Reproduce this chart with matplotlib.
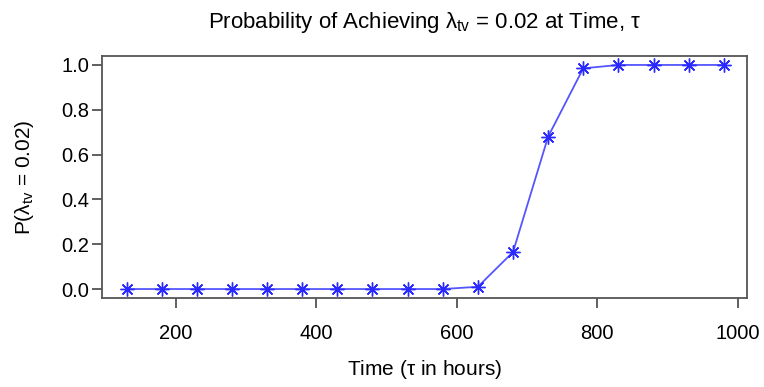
import numpy as np
import matplotlib
matplotlib.use("Agg")
import matplotlib.pyplot as plt

plt.rcParams['font.family'] = ['Liberation Sans', 'DejaVu Sans']
plt.rcParams['mathtext.fontset'] = 'custom'
plt.rcParams['mathtext.rm'] = 'Liberation Sans'
plt.rcParams['mathtext.it'] = 'Liberation Sans'
plt.rcParams['mathtext.bf'] = 'Liberation Sans:bold'

# data
temps = [130, 180, 230, 280, 330, 380, 430, 480, 530, 580, 630, 680, 730, 780, 830, 880, 930, 980]
proba = [0, 0, 0, 0, 0, 0, 0, 0, 0, 0, 0.01, 0.165, 0.68, 0.985, 1.0, 1.0, 1.0, 1.0]
xticks = [200, 400, 600, 800, 1000]
yticks = [0.0, 0.2, 0.4, 0.6, 0.8, 1.0]

fig = plt.figure(figsize=(7.64, 3.87), dpi=100)
ax = fig.add_axes([0.1335, 0.23, 0.8442, 0.6253])

ax.plot(temps, proba, color='#5555ff', lw=1.3, marker=(8, 2, 0),
        markersize=10, markeredgecolor='#2a2aff', markeredgewidth=1.0)

ax.set_xlim(95, 1013)
ax.set_ylim(-0.04, 1.04)
ax.set_xticks(xticks)
ax.set_yticks(yticks)
ax.set_yticklabels(["%.1f" % v for v in yticks])
ax.tick_params(direction='out', length=7, width=1.2, color='#444444',
               labelsize=14.5, pad=2)
ax.tick_params(axis='x', pad=12)
for s in ax.spines.values():
    s.set_color('#555555')
    s.set_linewidth(1.3)

ax.set_xlabel(r"Time ($\tau$ in hours)", fontsize=15)
ax.xaxis.set_label_coords(0.5, -0.297)
ax.xaxis.label.set_va('center')
ax.set_ylabel(r"P($\lambda_{\mathrm{tv}}$ = 0.02)", fontsize=15)
ax.yaxis.set_label_coords(-0.12, 0.5)
ax.yaxis.label.set_va('center')
ax.text(0.5, 1.14, r"Probability of Achieving $\lambda_{\mathrm{tv}}$ = 0.02 at Time, $\tau$",
        transform=ax.transAxes, fontsize=16, ha='center', va='center')

plt.savefig("out.png", dpi=100)
